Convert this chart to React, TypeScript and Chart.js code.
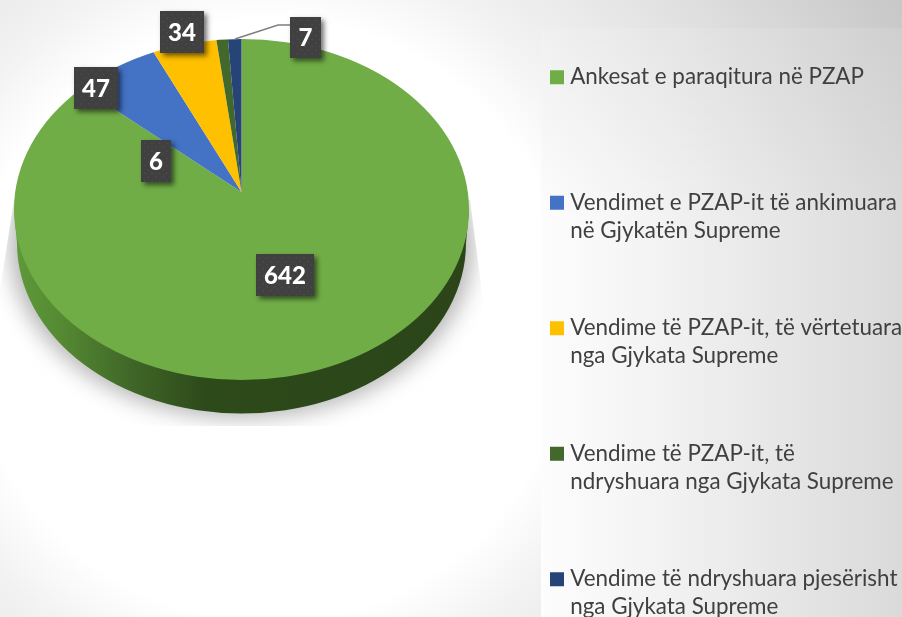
import React, { useEffect, useRef } from "react";
import { Chart, registerables } from "chart.js";

Chart.register(...registerables);

const legendLines = [
  ["Ankesat e paraqitura në PZAP", ""],
  ["Vendimet e PZAP-it të ankimuara", "në Gjykatën Supreme"],
  ["Vendime të PZAP-it, të vërtetuara", "nga Gjykata Supreme"],
  ["Vendime të PZAP-it, të", "ndryshuara nga Gjykata Supreme"],
  ["Vendime të ndryshuara pjesërisht", "nga Gjykata Supreme"],
];
const values = [642, 47, 34, 6, 7];
const colors = ["#70AD47", "#4472C4", "#FFC000", "#43682B", "#264478"];
// Value-label boxes, placed by hand in the source chart: [left, top, right, bottom]
const labelBoxes = [
  [256, 254, 314, 296],
  [74, 67, 118, 109],
  [160, 11, 204, 53],
  [141, 140, 171, 182],
  [290, 17, 321, 58],
];
const FONT = "Lato, Carlito, 'Open Sans', sans-serif";

const ellipse = { cx: 241.5, cy: 209.5, rx: 227.5, ry: 170.5 };
const apex = { x: 241.5, y: 192 };

function drawBackground(ctx: CanvasRenderingContext2D, w: number, h: number) {
  const base = ctx.createRadialGradient(270, 320, 0, 270, 320, 720);
  base.addColorStop(0, "#ffffff");
  base.addColorStop(300 / 720, "#ffffff");
  base.addColorStop(370 / 720, "#f2f2f2");
  base.addColorStop(500 / 720, "#e2e2e2");
  base.addColorStop(1, "#c6c6c6");
  ctx.fillStyle = base;
  ctx.fillRect(0, 0, w, h);
  const panel = ctx.createLinearGradient(541, 0, 902, 0);
  panel.addColorStop(0, "#fdfdfd");
  panel.addColorStop(0.35, "#f2f2f2");
  panel.addColorStop(1, "#dadada");
  ctx.fillStyle = panel;
  ctx.fillRect(541, 28, w - 541, h - 28);
  const top = ctx.createLinearGradient(0, 28, 0, 220);
  top.addColorStop(0, "rgba(0,0,0,0.05)");
  top.addColorStop(1, "rgba(0,0,0,0)");
  ctx.fillStyle = top;
  ctx.fillRect(541, 28, w - 541, 192);
}

function drawBody(ctx: CanvasRenderingContext2D) {
  const { cx, cy, rx, ry } = ellipse;
  // soft shadow below the pie, cut by a trapezoid
  ctx.save();
  ctx.beginPath();
  ctx.moveTo(14, 200);
  ctx.lineTo(0, 290);
  ctx.lineTo(0, 426);
  ctx.lineTo(483, 426);
  ctx.lineTo(483, 300);
  ctx.lineTo(470, 200);
  ctx.closePath();
  ctx.clip();
  ctx.filter = "blur(11px)";
  ctx.fillStyle = "#b4b4b4";
  ctx.beginPath();
  ctx.ellipse(cx, cy + 36, rx + 4, ry + 2, 0, 0, Math.PI * 2);
  ctx.fill();
  ctx.restore();
  // extruded side
  const side = ctx.createLinearGradient(14, 0, 469, 0);
  side.addColorStop(0, "#5f9a3a");
  side.addColorStop(0.1, "#558a33");
  side.addColorStop(0.26, "#3f6627");
  side.addColorStop(0.42, "#2d4a1a");
  side.addColorStop(1, "#2b4519");
  ctx.fillStyle = side;
  ctx.beginPath();
  ctx.moveTo(cx - rx, cy);
  ctx.ellipse(cx, cy + 33.5, rx - 3, ry, 0, Math.PI, 0, true);
  ctx.lineTo(cx + rx, cy);
  ctx.closePath();
  ctx.fill();
}

function drawLabels(ctx: CanvasRenderingContext2D) {
  // leader line of the last slice
  ctx.strokeStyle = "#7f7f7f";
  ctx.lineWidth = 1.5;
  ctx.beginPath();
  ctx.moveTo(235, 39);
  ctx.lineTo(278, 25);
  ctx.lineTo(290, 25);
  ctx.stroke();
  values.forEach((v, i) => {
    const [l, t, r, b] = labelBoxes[i];
    ctx.save();
    ctx.shadowColor = "rgba(0,0,0,0.55)";
    ctx.shadowBlur = 5;
    ctx.shadowOffsetX = 3;
    ctx.shadowOffsetY = 3;
    ctx.fillStyle = "#404040";
    ctx.fillRect(l, t, r - l, b - t);
    ctx.restore();
    ctx.fillStyle = "#4e4e4e";
    for (let row = 0; t + 3 + row * 3.7 < b - 1; row++) {
      for (let c = row % 2 ? 3.7 : 0; l + 3 + c < r - 1; c += 7.4) {
        ctx.fillRect(l + 3 + c, t + 3 + row * 3.7, 1.3, 1.3);
      }
    }
    ctx.fillStyle = "#ffffff";
    ctx.font = `900 24px ${FONT}`;
    ctx.textAlign = "center";
    ctx.textBaseline = "middle";
    ctx.fillText(String(v), (l + r) / 2, (t + b) / 2 + 1);
  });
}

const piePlugin = {
  id: "pie3d",
  beforeDraw(chart: any) {
    drawBackground(chart.ctx, chart.width, chart.height);
    chart.legend.left = 555 - chart.legend.options.labels.padding;
    chart.legend.top = 66 - chart.legend.options.labels.padding;
  },
  beforeDatasetsDraw(chart: any) {
    const ctx = chart.ctx;
    drawBody(ctx);
    const arc = chart.getDatasetMeta(0).data[0];
    const R = arc.outerRadius;
    ctx.save();
    ctx.beginPath();
    ctx.ellipse(ellipse.cx, ellipse.cy, ellipse.rx, ellipse.ry, 0, 0, Math.PI * 2);
    ctx.clip();
    ctx.translate(apex.x, apex.y);
    ctx.scale(295 / R, 199 / R);
    ctx.translate(-arc.x, -arc.y);
  },
  afterDatasetsDraw(chart: any) {
    chart.ctx.restore();
    drawLabels(chart.ctx);
  },
};

export default function App() {
  const ref = useRef<HTMLCanvasElement>(null);
  useEffect(() => {
    document.body.style.margin = "0";
    const chart = new Chart(ref.current!, {
      type: "pie",
      data: {
        labels: legendLines as any,
        datasets: [{ data: values, backgroundColor: colors, borderWidth: 0, clip: false } as any],
      },
      options: {
        responsive: false,
        animation: false,
        devicePixelRatio: 1,
        plugins: {
          tooltip: { enabled: false },
          legend: {
            position: "right",
            align: "start",
            labels: {
              usePointStyle: true,
              pointStyle: "rect",
              boxWidth: 4,
              boxHeight: 14,
              padding: 69.5,
              color: "#404040",
              font: { family: FONT, size: 22.4, lineHeight: 1.25 },
            },
          },
        },
      } as any,
      plugins: [piePlugin],
    });
    return () => chart.destroy();
  }, []);
  return (
    <div style={{ width: 902, height: 617, overflow: "hidden" }}>
      <canvas ref={ref} width={902} height={700} style={{ display: "block" }} />
    </div>
  );
}
